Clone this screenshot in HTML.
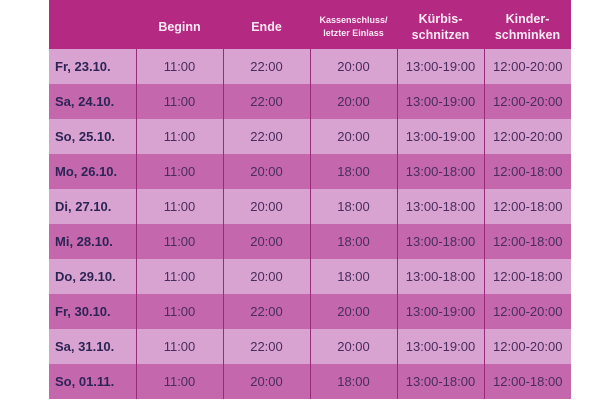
<!DOCTYPE html>
<html><head><style>
body{margin:0;width:600px;height:400px;background:#fff;overflow:hidden;font-family:"Liberation Sans",sans-serif}
table{position:absolute;left:49px;top:0;width:522px;border-collapse:collapse;table-layout:fixed}
td,th{padding:0;text-align:center;font-size:13px;color:#4a2d5e;box-sizing:border-box}
th{height:49px;background:#b42a82;color:#fbeaf5;font-weight:bold;font-size:12.5px;line-height:16px;padding-top:5px}
td{height:35px;border-left:1.5px solid #9c2a7a}
td:first-child{border-left:none;text-align:left;padding-left:6px;font-weight:bold;color:#2d2456}
tr.l td{background:#d8a3d0}
tr.d td{background:#c467ad}
</style></head><body>
<table>
<colgroup><col style="width:87px"><col style="width:87px"><col style="width:87px"><col style="width:87px"><col style="width:87px"><col style="width:87px"></colgroup>
<tr><th></th><th>Beginn</th><th>Ende</th><th style="font-size:9px;line-height:13px">Kassenschluss/<br>letzter Einlass</th><th>Kürbis-<br>schnitzen</th><th>Kinder-<br>schminken</th></tr>
<tr class="l"><td>Fr, 23.10.</td><td>11:00</td><td>22:00</td><td>20:00</td><td>13:00-19:00</td><td>12:00-20:00</td></tr>
<tr class="d"><td>Sa, 24.10.</td><td>11:00</td><td>22:00</td><td>20:00</td><td>13:00-19:00</td><td>12:00-20:00</td></tr>
<tr class="l"><td>So, 25.10.</td><td>11:00</td><td>22:00</td><td>20:00</td><td>13:00-19:00</td><td>12:00-20:00</td></tr>
<tr class="d"><td>Mo, 26.10.</td><td>11:00</td><td>20:00</td><td>18:00</td><td>13:00-18:00</td><td>12:00-18:00</td></tr>
<tr class="l"><td>Di, 27.10.</td><td>11:00</td><td>20:00</td><td>18:00</td><td>13:00-18:00</td><td>12:00-18:00</td></tr>
<tr class="d"><td>Mi, 28.10.</td><td>11:00</td><td>20:00</td><td>18:00</td><td>13:00-18:00</td><td>12:00-18:00</td></tr>
<tr class="l"><td>Do, 29.10.</td><td>11:00</td><td>20:00</td><td>18:00</td><td>13:00-18:00</td><td>12:00-18:00</td></tr>
<tr class="d"><td>Fr, 30.10.</td><td>11:00</td><td>22:00</td><td>20:00</td><td>13:00-19:00</td><td>12:00-20:00</td></tr>
<tr class="l"><td>Sa, 31.10.</td><td>11:00</td><td>22:00</td><td>20:00</td><td>13:00-19:00</td><td>12:00-20:00</td></tr>
<tr class="d"><td>So, 01.11.</td><td>11:00</td><td>20:00</td><td>18:00</td><td>13:00-18:00</td><td>12:00-18:00</td></tr>
</table>
</body></html>
